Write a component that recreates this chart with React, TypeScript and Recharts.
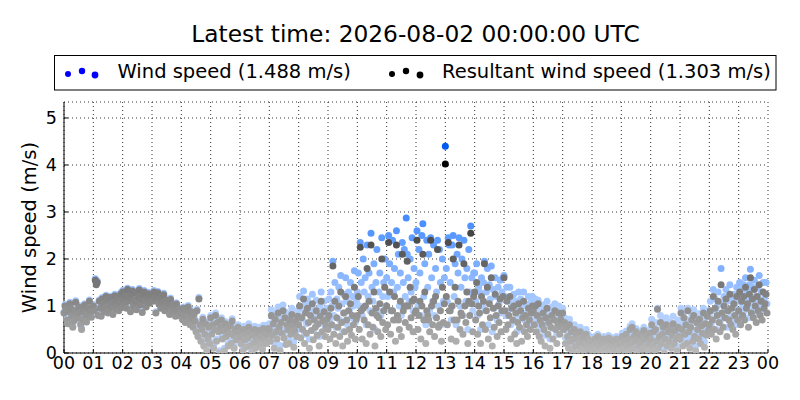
import { ScatterChart, Scatter, XAxis, YAxis, CartesianGrid } from 'recharts'

// 2-minute samples, one row per hour (00..23)
const minutes = [0, 2, 4, 6, 8, 10, 12, 14, 16, 18, 20, 22, 24, 26, 28, 30, 32, 34, 36, 38, 40, 42, 44, 46, 48, 50, 52, 54, 56, 58]
const hourTicks = [0, 1, 2, 3, 4, 5, 6, 7, 8, 9, 10, 11, 12, 13, 14, 15, 16, 17, 18, 19, 20, 21, 22, 23, 24]
const hourLabels = ['00', '01', '02', '03', '04', '05', '06', '07', '08', '09', '10', '11', '12',
  '13', '14', '15', '16', '17', '18', '19', '20', '21', '22', '23', '00']
const speedTicks = [0, 1, 2, 3, 4, 5]

const windSpeed = [
  [0.88, 1.03, 0.95, 0.73, 0.65, 0.91, 1.08, 0.98, 0.81, 0.58, 0.71, 0.93, 1.11, 0.85, 0.77, 1.01, 0.89, 0.63, 0.53, 0.75, 0.96, 1.05, 0.87, 0.69, 0.83, 0.99, 1.13, 0.91, 0.79, 0.93],
  [1.03, 0.93, 1.58, 1.48, 1.53, 0.84, 1.13, 0.98, 0.82, 1.18, 1.08, 0.91, 0.99, 1.23, 1.15, 0.88, 0.95, 1.05, 1.21, 1.01, 0.86, 1.11, 1.25, 0.97, 1.03, 1.17, 0.93, 1.09, 1.28, 1.0],
  [1.33, 1.18, 1.08, 1.25, 0.98, 1.38, 1.13, 1.21, 0.92, 1.28, 1.35, 1.03, 1.15, 1.31, 0.95, 1.11, 1.23, 1.37, 1.05, 1.18, 0.9, 1.27, 1.33, 1.13, 1.01, 1.21, 1.29, 1.09, 1.17, 1.25],
  [1.28, 1.13, 1.33, 1.21, 0.88, 1.25, 1.31, 1.08, 1.18, 0.98, 1.23, 1.11, 1.27, 0.93, 1.03, 1.15, 1.01, 1.09, 0.85, 1.17, 0.95, 1.05, 0.89, 0.99, 0.81, 1.07, 0.91, 0.97, 0.83, 0.93],
  [0.88, 0.75, 0.98, 0.83, 0.68, 0.93, 0.81, 1.01, 0.73, 0.63, 0.91, 0.78, 0.59, 0.85, 0.72, 0.5, 0.93, 0.4, 1.18, 0.64, 0.3, 0.55, 0.76, 0.2, 0.45, 0.66, 0.1, 0.35, 0.6, 0.25],
  [0.8, 0.45, 0.65, 0.15, 0.55, 0.85, 0.3, 0.7, 0.5, 0.05, 0.6, 0.75, 0.35, 0.53, 0.1, 0.67, 0.4, 0.57, 0.2, 0.47, 0.63, 0.25, 0.73, 0.43, 0.15, 0.55, 0.33, 0.5, 0.6, 0.37],
  [0.52, 0.27, 0.42, 0.12, 0.57, 0.35, 0.19, 0.47, 0.39, 0.62, 0.22, 0.52, 0.07, 0.45, 0.29, 0.57, 0.17, 0.37, 0.49, 0.32, 0.55, 0.25, 0.43, 0.15, 0.59, 0.37, 0.51, 0.27, 0.47, 0.6],
  [0.62, 0.36, 0.92, 0.5, 0.75, 0.22, 0.85, 0.58, 0.42, 0.98, 0.68, 0.16, 0.78, 0.55, 1.02, 0.45, 0.88, 0.3, 0.74, 0.62, 0.32, 0.84, 0.52, 0.95, 0.72, 0.24, 0.6, 0.82, 0.48, 0.9],
  [0.82, 1.2, 0.52, 0.95, 0.72, 1.32, 0.4, 1.05, 0.62, 1.15, 0.88, 0.3, 1.0, 0.7, 1.25, 0.48, 0.92, 0.78, 1.12, 0.6, 0.84, 0.35, 1.0, 1.3, 0.66, 0.9, 1.1, 0.56, 0.8, 0.95],
  [0.85, 1.15, 0.7, 1.3, 1.0, 1.95, 0.8, 1.5, 0.55, 1.15, 0.95, 1.4, 0.7, 1.65, 1.05, 0.45, 1.25, 0.85, 1.6, 1.1, 0.6, 1.3, 0.9, 1.5, 0.75, 1.2, 1.0, 1.75, 0.65, 1.1],
  [1.3, 1.7, 1.0, 2.35, 1.5, 0.8, 2.0, 1.3, 1.6, 0.6, 2.3, 1.2, 1.7, 0.9, 2.55, 1.4, 1.1, 1.9, 0.5, 1.5, 2.2, 0.9, 1.3, 1.7, 0.8, 2.45, 1.2, 1.5, 2.0, 1.0],
  [1.6, 1.2, 2.5, 1.9, 0.9, 1.5, 2.4, 1.3, 1.8, 0.7, 2.6, 1.4, 2.1, 1.0, 1.7, 0.8, 2.35, 1.5, 2.2, 1.2, 2.87, 2.1, 1.6, 1.1, 2.0, 1.3, 2.45, 0.9, 1.8, 1.4],
  [1.5, 2.6, 1.0, 2.2, 1.7, 0.8, 2.5, 2.75, 1.2, 1.9, 0.6, 2.4, 1.4, 2.1, 0.9, 2.45, 1.6, 1.1, 2.3, 0.8, 1.8, 1.3, 2.4, 1.0, 2.2, 1.5, 0.6, 2.0, 1.1, 1.6],
  [4.4, 1.8, 1.1, 2.45, 2.3, 1.5, 0.7, 2.3, 2.5, 1.2, 1.9, 0.6, 2.1, 1.7, 2.45, 1.0, 1.4, 2.0, 0.8, 2.4, 1.6, 1.1, 1.8, 0.5, 2.2, 1.3, 2.7, 1.6, 0.9, 1.7],
  [1.7, 1.1, 1.9, 0.8, 1.4, 1.3, 0.5, 1.6, 1.0, 1.5, 1.95, 0.9, 1.3, 1.8, 0.6, 1.45, 1.15, 1.85, 0.45, 1.35, 0.95, 1.6, 1.2, 0.7, 1.4, 1.05, 1.55, 0.85, 1.3, 1.6],
  [1.65, 1.2, 0.8, 1.4, 0.9, 1.1, 1.4, 0.6, 1.2, 1.0, 1.25, 0.7, 1.1, 0.45, 0.95, 1.3, 0.8, 1.15, 0.5, 1.0, 1.3, 0.7, 1.05, 0.85, 0.6, 1.2, 0.95, 0.75, 1.1, 1.2],
  [1.1, 0.85, 1.15, 0.7, 1.0, 1.12, 0.6, 0.9, 0.5, 0.82, 1.02, 0.72, 0.38, 0.95, 1.1, 0.62, 0.85, 0.3, 0.75, 0.98, 0.52, 0.9, 1.05, 0.7, 0.4, 0.82, 1.0, 0.6, 0.9, 0.75],
  [0.95, 0.62, 0.75, 0.32, 0.68, 0.45, 0.2, 0.72, 0.36, 0.56, 0.15, 0.4, 0.6, 0.25, 0.5, 0.08, 0.4, 0.3, 0.55, 0.2, 0.34, 0.45, 0.14, 0.3, 0.5, 0.24, 0.4, 0.16, 0.3, 0.2],
  [0.3, 0.1, 0.2, 0.35, 0.15, 0.25, 0.4, 0.05, 0.2, 0.3, 0.1, 0.25, 0.35, 0.15, 0.05, 0.27, 0.17, 0.37, 0.11, 0.23, 0.33, 0.07, 0.19, 0.29, 0.13, 0.35, 0.21, 0.09, 0.25, 0.31],
  [0.27, 0.42, 0.17, 0.32, 0.07, 0.47, 0.22, 0.37, 0.12, 0.57, 0.27, 0.62, 0.17, 0.42, 0.32, 0.52, 0.07, 0.37, 0.22, 0.47, 0.29, 0.15, 0.39, 0.55, 0.19, 0.35, 0.45, 0.12, 0.27, 0.49],
  [0.42, 0.72, 0.28, 0.6, 0.15, 0.65, 0.38, 0.95, 0.2, 0.5, 0.8, 0.32, 0.55, 0.7, 0.1, 0.44, 0.75, 0.28, 0.6, 0.38, 0.66, 0.22, 0.52, 0.78, 0.34, 0.62, 0.44, 0.15, 0.7, 0.5],
  [0.4, 0.95, 0.62, 0.28, 0.88, 0.52, 0.72, 0.32, 0.95, 0.58, 0.2, 0.68, 0.82, 0.36, 0.92, 0.48, 0.15, 0.78, 0.62, 0.42, 0.84, 0.32, 0.7, 0.55, 0.95, 0.24, 0.75, 0.5, 0.9, 0.6],
  [0.8, 1.1, 0.6, 0.9, 1.35, 0.7, 1.15, 0.5, 1.0, 1.3, 0.85, 0.65, 1.8, 1.05, 0.75, 1.2, 0.95, 1.35, 0.55, 1.1, 0.9, 1.45, 0.8, 1.15, 0.7, 1.25, 1.0, 0.6, 1.4, 0.9],
  [1.1, 1.5, 0.8, 1.35, 1.0, 1.45, 0.9, 1.6, 1.15, 1.3, 0.75, 1.45, 1.78, 1.05, 1.4, 0.95, 1.55, 1.2, 0.85, 1.4, 1.1, 1.65, 1.0, 1.3, 0.9, 1.5, 1.15, 1.25, 1.5, 1.05],
]

const resultant = [
  [0.85, 1.0, 0.92, 0.7, 0.62, 0.88, 1.05, 0.95, 0.78, 0.55, 0.68, 0.9, 1.08, 0.82, 0.74, 0.98, 0.86, 0.6, 0.5, 0.72, 0.93, 1.02, 0.84, 0.66, 0.8, 0.96, 1.1, 0.88, 0.76, 0.9],
  [1.0, 0.9, 1.55, 1.45, 1.5, 0.8, 1.1, 0.95, 0.78, 1.15, 1.05, 0.88, 0.96, 1.2, 1.12, 0.85, 0.92, 1.02, 1.18, 0.98, 0.82, 1.08, 1.22, 0.94, 1.0, 1.14, 0.9, 1.06, 1.25, 0.97],
  [1.3, 1.15, 1.05, 1.22, 0.95, 1.35, 1.1, 1.18, 0.88, 1.25, 1.32, 1.0, 1.12, 1.28, 0.92, 1.08, 1.2, 1.34, 1.02, 1.15, 0.86, 1.24, 1.3, 1.1, 0.98, 1.18, 1.26, 1.06, 1.14, 1.22],
  [1.25, 1.1, 1.3, 1.18, 0.85, 1.22, 1.28, 1.05, 1.15, 0.95, 1.2, 1.08, 1.24, 0.9, 1.0, 1.12, 0.98, 1.06, 0.82, 1.14, 0.92, 1.02, 0.86, 0.96, 0.78, 1.04, 0.88, 0.94, 0.8, 0.9],
  [0.85, 0.72, 0.95, 0.8, 0.65, 0.9, 0.78, 0.98, 0.7, 0.6, 0.88, 0.75, 0.55, 0.82, 0.68, 0.45, 0.9, 0.35, 1.15, 0.6, 0.25, 0.5, 0.72, 0.15, 0.4, 0.62, 0.05, 0.3, 0.55, 0.2],
  [0.75, 0.4, 0.6, 0.1, 0.5, 0.8, 0.25, 0.65, 0.45, 0.0, 0.55, 0.7, 0.3, 0.48, 0.05, 0.62, 0.35, 0.52, 0.15, 0.42, 0.58, 0.2, 0.68, 0.38, 0.1, 0.5, 0.28, 0.45, 0.55, 0.32],
  [0.45, 0.2, 0.35, 0.05, 0.5, 0.28, 0.12, 0.4, 0.32, 0.55, 0.15, 0.45, 0.0, 0.38, 0.22, 0.5, 0.1, 0.3, 0.42, 0.25, 0.48, 0.18, 0.36, 0.08, 0.52, 0.3, 0.44, 0.2, 0.4, 0.52],
  [0.5, 0.25, 0.8, 0.38, 0.62, 0.1, 0.72, 0.45, 0.3, 0.85, 0.55, 0.05, 0.65, 0.42, 0.9, 0.32, 0.75, 0.18, 0.6, 0.5, 0.2, 0.7, 0.4, 0.82, 0.58, 0.12, 0.48, 0.68, 0.35, 0.78],
  [0.6, 1.0, 0.32, 0.75, 0.5, 1.15, 0.2, 0.85, 0.42, 0.95, 0.65, 0.1, 0.8, 0.48, 1.05, 0.28, 0.7, 0.55, 0.9, 0.38, 0.62, 0.15, 0.78, 1.1, 0.45, 0.68, 0.88, 0.35, 0.58, 0.72],
  [0.5, 0.8, 0.3, 0.95, 0.6, 1.85, 0.4, 1.1, 0.2, 0.75, 0.55, 1.0, 0.35, 1.3, 0.65, 0.15, 0.85, 0.45, 1.2, 0.7, 0.25, 0.9, 0.5, 1.05, 0.38, 0.8, 0.6, 1.4, 0.3, 0.72],
  [0.8, 1.2, 0.5, 2.25, 0.9, 0.3, 0.95, 0.7, 1.0, 0.2, 1.8, 0.6, 1.1, 0.4, 2.3, 0.85, 0.55, 1.3, 0.15, 0.95, 0.8, 0.45, 0.75, 1.05, 0.35, 2.0, 0.65, 0.9, 1.4, 0.5],
  [1.0, 0.6, 2.35, 1.3, 0.4, 0.9, 0.9, 0.7, 1.2, 0.25, 2.3, 0.8, 0.7, 0.5, 1.1, 0.35, 2.1, 0.9, 1.0, 0.65, 1.0, 1.95, 1.0, 0.55, 1.4, 0.75, 1.1, 0.45, 1.15, 0.85],
  [0.9, 2.4, 0.5, 0.8, 1.1, 0.3, 1.0, 2.1, 0.7, 1.3, 0.2, 0.9, 0.8, 0.7, 0.45, 2.4, 1.0, 0.6, 1.1, 0.35, 1.2, 0.75, 2.2, 0.55, 0.6, 0.9, 0.25, 1.4, 0.65, 1.05],
  [4.02, 1.2, 0.6, 2.35, 0.9, 0.9, 0.3, 1.0, 2.0, 0.7, 1.4, 0.25, 0.7, 1.1, 2.3, 0.5, 0.85, 0.8, 0.4, 1.9, 1.0, 0.65, 1.3, 0.2, 1.1, 0.8, 2.55, 1.05, 0.45, 1.2],
  [1.3, 0.7, 1.5, 0.4, 1.0, 0.85, 0.2, 1.2, 0.6, 1.1, 1.9, 0.5, 0.9, 1.4, 0.3, 1.05, 0.75, 1.6, 0.15, 0.95, 0.55, 1.25, 0.8, 0.35, 1.0, 0.65, 1.15, 0.45, 0.9, 1.2],
  [1.6, 0.9, 0.5, 1.1, 0.6, 0.8, 1.2, 0.3, 0.95, 0.7, 1.0, 0.4, 0.85, 0.2, 0.65, 1.05, 0.55, 0.9, 0.25, 0.75, 1.1, 0.45, 0.8, 0.6, 0.35, 0.95, 0.7, 0.5, 0.85, 1.0],
  [0.9, 0.6, 1.0, 0.45, 0.8, 1.05, 0.35, 0.7, 0.25, 0.6, 0.85, 0.5, 0.15, 0.75, 0.95, 0.4, 0.65, 0.1, 0.55, 0.8, 0.3, 0.7, 0.9, 0.5, 0.2, 0.62, 0.85, 0.4, 0.72, 0.55],
  [0.85, 0.5, 0.65, 0.2, 0.55, 0.35, 0.1, 0.6, 0.25, 0.45, 0.05, 0.3, 0.5, 0.15, 0.4, 0.0, 0.3, 0.2, 0.45, 0.1, 0.25, 0.35, 0.05, 0.2, 0.4, 0.15, 0.3, 0.08, 0.22, 0.12],
  [0.25, 0.05, 0.15, 0.3, 0.1, 0.2, 0.35, 0.0, 0.15, 0.25, 0.05, 0.2, 0.3, 0.1, 0.0, 0.22, 0.12, 0.32, 0.06, 0.18, 0.28, 0.02, 0.14, 0.24, 0.08, 0.3, 0.16, 0.04, 0.2, 0.26],
  [0.2, 0.35, 0.1, 0.25, 0.0, 0.4, 0.15, 0.3, 0.05, 0.5, 0.2, 0.55, 0.1, 0.35, 0.25, 0.45, 0.0, 0.3, 0.15, 0.4, 0.22, 0.08, 0.32, 0.48, 0.12, 0.28, 0.38, 0.05, 0.2, 0.42],
  [0.3, 0.6, 0.15, 0.45, 0.05, 0.5, 0.25, 0.93, 0.1, 0.35, 0.65, 0.2, 0.4, 0.55, 0.0, 0.3, 0.6, 0.15, 0.45, 0.25, 0.5, 0.1, 0.38, 0.62, 0.2, 0.48, 0.3, 0.05, 0.55, 0.35],
  [0.3, 0.85, 0.5, 0.15, 0.75, 0.4, 0.6, 0.2, 0.9, 0.45, 0.1, 0.55, 0.7, 0.25, 0.8, 0.35, 0.05, 0.65, 0.5, 0.3, 0.72, 0.2, 0.58, 0.42, 0.85, 0.12, 0.62, 0.38, 0.78, 0.48],
  [0.6, 0.9, 0.4, 0.7, 1.2, 0.5, 0.95, 0.3, 0.8, 1.1, 0.65, 0.45, 1.45, 0.85, 0.55, 1.0, 0.75, 1.15, 0.35, 0.9, 0.7, 1.25, 0.6, 0.95, 0.5, 1.05, 0.8, 0.4, 1.2, 0.7],
  [0.9, 1.3, 0.6, 1.1, 0.8, 1.2, 0.7, 1.4, 0.95, 1.05, 0.55, 1.25, 1.6, 0.85, 1.15, 0.75, 1.35, 1.0, 0.65, 1.2, 0.9, 1.45, 0.8, 1.1, 0.7, 1.3, 0.95, 1.05, 1.25, 0.85],
]

const toPoints = (rows: number[][]) =>
  rows.flatMap((row, h) => row.map((v, i) => ({ t: h + minutes[i] / 60, v })))

const wsPoints = toPoints(windSpeed)
const rsPoints = toPoints(resultant)

// colour darkens as the speed rises
const blueFor = (v: number) => `hsl(217, 100%, ${Math.min(85, 95 - 11 * v)}%)`
const grayFor = (v: number) => {
  const c = Math.max(0, Math.round(185 - 45 * v))
  return `rgb(${c},${c},${c})`
}

const font = 'DejaVu Sans'
const tickStyle = { fill: '#000', fontSize: 17.5, fontFamily: font }

const BlueDot = (p: any) => <circle cx={p.cx} cy={p.cy} r={3.5} fill={blueFor(p.payload.v)} />
const GrayDot = (p: any) => <circle cx={p.cx} cy={p.cy} r={3.5} fill={grayFor(p.payload.v)} />

export default function App() {
  return (
    <div style={{ position: 'absolute', left: 0, top: 0, width: 800, height: 400, background: '#fff' }}>
      <ScatterChart width={800} height={400} margin={{ top: 102, right: 32, bottom: 17, left: 4 }}>
        <CartesianGrid stroke="#000" strokeDasharray="1 3" strokeWidth={0.8} />
        <XAxis
          dataKey="t" type="number" domain={[0, 24]} ticks={hourTicks} interval={0}
          tickFormatter={(t: number) => hourLabels[t]} height={30}
          tickSize={-4} tickMargin={8} tick={tickStyle}
          axisLine={{ stroke: '#000' }} tickLine={{ stroke: '#000' }}
        />
        <XAxis
          xAxisId="top" orientation="top" type="number" domain={[0, 24]} ticks={hourTicks} interval={0}
          tickFormatter={() => ''} height={0} tickSize={-4}
          axisLine={{ stroke: '#000' }} tickLine={{ stroke: '#000' }}
        />
        <YAxis
          dataKey="v" type="number" domain={[0, 5.34]} ticks={speedTicks} interval={0} width={60}
          tickSize={-4} tickMargin={11} tick={tickStyle} allowDataOverflow
          axisLine={{ stroke: '#000' }} tickLine={{ stroke: '#000' }}
        />
        <YAxis
          yAxisId="right" orientation="right" type="number" domain={[0, 5.34]} ticks={speedTicks} interval={0}
          width={0} tickSize={-4} tickFormatter={() => ''}
          axisLine={{ stroke: '#000' }} tickLine={{ stroke: '#000' }}
        />
        <Scatter data={wsPoints} shape={BlueDot} isAnimationActive={false} />
        <Scatter data={rsPoints} shape={GrayDot} isAnimationActive={false} />
      </ScatterChart>

      <svg width={800} height={400} style={{ position: 'absolute', left: 0, top: 0, pointerEvents: 'none' }}
        fontFamily={font}>
        <text x={415.5} y={41.7} textAnchor="middle" fontSize={23.3}>Latest time: 2026-08-02 00:00:00 UTC</text>
        <rect x={54.5} y={55.5} width={721.5} height={34.5} fill="#fff" stroke="#000" strokeWidth={1} />
        <circle cx={68} cy={74} r={3} fill="#0000ff" />
        <circle cx={82} cy={71} r={3.2} fill="#0000ff" />
        <circle cx={95} cy={75} r={3.4} fill="#0000ff" />
        <text x={117.5} y={78.3} fontSize={19.5}>Wind speed (1.488 m/s)</text>
        <circle cx={392} cy={74} r={3} fill="#000" />
        <circle cx={406} cy={71} r={3.2} fill="#000" />
        <circle cx={420} cy={75} r={3.4} fill="#000" />
        <text x={442} y={78.3} fontSize={19.5}>Resultant wind speed (1.303 m/s)</text>
        <text transform="translate(36,227.5) rotate(-90)" textAnchor="middle" fontSize={19.5}>Wind speed (m/s)</text>
      </svg>
    </div>
  )
}
